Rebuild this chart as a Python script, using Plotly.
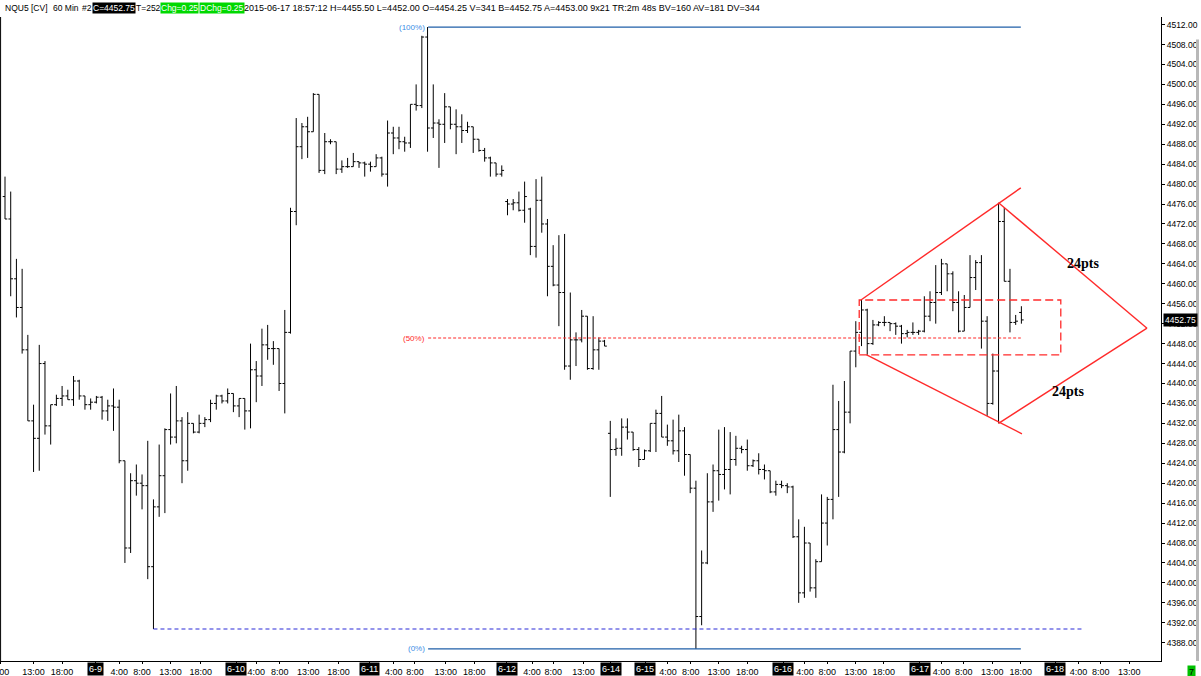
import plotly.graph_objects as go

# NQU5 60 min bars, 6-8 08:00 .. 6-17 18:00
opens = [4477.5, 4473, 4461, 4455.25, 4446.75, 4432.5, 4429, 4444, 4431.5, 4435.75,
         4437, 4437.5, 4436.75, 4440.5, 4437.5, 4435.75, 4436.25, 4437.25, 4434.5, 4435.5,
         4435.25, 4424.5, 4407, 4420.5, 4420, 4419.5, 4403.25, 4415.25, 4421.5, 4430.75,
         4429.25, 4432.5, 4424.5, 4432, 4430.25, 4432, 4432.75, 4436, 4437.5, 4436.5,
         4438, 4435.5, 4437, 4434.5, 4442.75, 4441.5, 4447.75, 4447, 4447, 4440,
         4450.25, 4474.5, 4487.5, 4491.5, 4490.5, 4498, 4482.75, 4488.5, 4488.5, 4483,
         4483.5, 4483.5, 4484.5, 4484.25, 4484, 4483.5, 4485.25, 4482, 4490.25, 4489.25,
         4488.5, 4488.25, 4496, 4495.75, 4509.5, 4491.25, 4492.25, 4492, 4495.5, 4492,
         4491.5, 4490.75, 4491.5, 4489, 4486.75, 4485.25, 4484.25, 4482, 4476.5, 4476,
         4476.25, 4474.75, 4475, 4467.5, 4476.75, 4472, 4463.5, 4459.75, 4458.25, 4443.5,
         4448.75, 4448.75, 4453.5, 4443, 4446.75, 4448.5, 4430, 4426.75, 4427, 4431.25,
         4430.25, 4426.75, 4424.75, 4426.5, 4432, 4434, 4429.25, 4428.5, 4426.5, 4430.5,
         4425.75, 4419, 4393.25, 4404, 4416.25, 4422.5, 4421.75, 4422.75, 4424.75, 4427,
         4426.75, 4423.5, 4424.5, 4422.75, 4422.5, 4418.25, 4419.75, 4419.5, 4419.25, 4409.25,
         4398, 4408, 4399, 4404.25, 4412, 4416.75, 4430.75, 4426.25, 4434.25, 4446.5,
         4450.25, 4454.75, 4448, 4451.75, 4452.25, 4452.25, 4452, 4451.5, 4450, 4450.25,
         4450.25, 4450.5, 4453.5, 4456.25, 4458.25, 4464, 4462, 4456.25, 4450.5, 4455.25,
         4461.25, 4464.25, 4452.5, 4436, 4442.5, 4472.5, 4460.5, 4452.25, 4454.25]
highs = [4481.5, 4478.5, 4465, 4463, 4449.75, 4435.75, 4447.75, 4444.5, 4435.75, 4437.75,
         4439.5, 4438.75, 4441.5, 4440.75, 4437.5, 4437, 4437.5, 4437.5, 4436.75, 4439,
         4436.75, 4424.5, 4422, 4423.75, 4421.75, 4428.5, 4416.75, 4427.75, 4431, 4438,
         4439.5, 4433.25, 4434.25, 4432, 4433.75, 4433.25, 4436.75, 4437.75, 4437.75, 4439,
         4438, 4437, 4437, 4448, 4444.5, 4451, 4451.75, 4448.5, 4447, 4454.75,
         4475.25, 4493.25, 4492.25, 4493.5, 4498.25, 4498, 4490.25, 4489, 4488.5, 4484.75,
         4485.25, 4486.25, 4484.5, 4484.5, 4484.5, 4486, 4485.5, 4492.75, 4491.5, 4491.5,
         4489.5, 4496, 4500, 4509.75, 4511.5, 4500, 4493, 4498.25, 4495.5, 4495,
         4494, 4492.5, 4491.5, 4489, 4487.25, 4485.5, 4484.25, 4483.75, 4477, 4477,
         4478.5, 4480.5, 4475.25, 4481, 4481.5, 4473, 4467.75, 4469.75, 4470, 4458.25,
         4450.25, 4454.75, 4453.5, 4453.5, 4449.25, 4448.75, 4432.5, 4429, 4433, 4433,
         4430.25, 4427.25, 4426.75, 4432, 4434.75, 4437.5, 4431.75, 4432.75, 4433.75, 4431.25,
         4425.75, 4420.5, 4406.5, 4422, 4423.75, 4430.75, 4431.25, 4430.25, 4429.5, 4427.5,
         4428.75, 4424.75, 4426, 4423.75, 4422.5, 4420.5, 4420.5, 4420, 4419.5, 4412.75,
         4411.25, 4408, 4404.75, 4417.75, 4417.25, 4439.75, 4436.5, 4440.5, 4446.5, 4452.5,
         4456.75, 4455, 4452.75, 4452.5, 4453.5, 4452.25, 4452.25, 4451.75, 4450.75, 4452.25,
         4450.75, 4457.5, 4458.5, 4463.75, 4465, 4464, 4462.5, 4458.5, 4457.75, 4465.75,
         4464.75, 4465.75, 4453.5, 4446, 4476.25, 4475.25, 4463, 4453.75, 4455.5]
lows = [4473, 4457.5, 4453.25, 4446, 4432.5, 4422.25, 4422.5, 4429.75, 4427.75, 4435.5,
        4435.5, 4436.75, 4435.5, 4436.75, 4434.75, 4434.75, 4436, 4432.75, 4432.5, 4430.5,
        4424, 4404, 4406, 4417.5, 4414.75, 4400.75, 4390.75, 4413.25, 4414, 4427.75,
        4428, 4420, 4422.5, 4430, 4430, 4431.25, 4432.25, 4434.75, 4436, 4436,
        4434.25, 4433.25, 4430.75, 4431, 4436.25, 4439.5, 4444.75, 4443.75, 4438.5, 4434,
        4450, 4471.75, 4485, 4485.25, 4490.5, 4482.25, 4482, 4488, 4482, 4482.25,
        4483.25, 4483.5, 4483.25, 4481.5, 4482.5, 4483.5, 4481.5, 4479.5, 4486, 4487,
        4486.5, 4487.25, 4494.75, 4495.25, 4486.5, 4489.25, 4483.25, 4488.25, 4491, 4486,
        4488.25, 4490.25, 4486.25, 4486.5, 4484.5, 4481.5, 4481.5, 4481.5, 4473.75, 4474.75,
        4474.5, 4472.25, 4465.75, 4465.25, 4470.25, 4457.5, 4459.5, 4451.5, 4442.75, 4440.75,
        4443.5, 4448.25, 4442.75, 4442.75, 4442.75, 4447.5, 4417.25, 4425.5, 4425.5, 4428.75,
        4426.5, 4423.25, 4424.75, 4426.25, 4426.25, 4429.25, 4427.5, 4425.75, 4424.25, 4421.5,
        4418, 4386.75, 4391.5, 4403.75, 4414.25, 4416.5, 4418.75, 4417.75, 4423.5, 4426,
        4422.5, 4423.25, 4421.75, 4420.75, 4418, 4417.5, 4419, 4418, 4409, 4396,
        4397, 4398.25, 4397, 4404.25, 4407.5, 4412.75, 4417.25, 4426, 4432, 4443.25,
        4447.5, 4445.75, 4447.75, 4451.5, 4451.5, 4450.5, 4449.75, 4448, 4449.25, 4449.75,
        4449.75, 4450.25, 4452.5, 4452, 4457.75, 4458.5, 4454.5, 4450.25, 4450.5, 4455.25,
        4458.75, 4447, 4433.5, 4435.75, 4432, 4460.5, 4450.25, 4451.75, 4452]
closes = [4473, 4461, 4455.25, 4446.75, 4432.5, 4429, 4444, 4431.5, 4435.75, 4437,
          4437.5, 4436.75, 4440.5, 4437.5, 4435.75, 4436.25, 4437.25, 4434.5, 4435.5, 4435.25,
          4424.5, 4407, 4420.5, 4420, 4419.5, 4403.25, 4415.25, 4421.5, 4430.75, 4429.25,
          4432.5, 4424.5, 4432, 4430.25, 4432, 4432.75, 4436, 4437.5, 4436.5, 4438,
          4435.5, 4437, 4434.5, 4442.75, 4441.5, 4447.75, 4447, 4447, 4440, 4450.25,
          4474.5, 4487.5, 4491.5, 4490.5, 4498, 4482.75, 4488.5, 4488.5, 4483, 4483.5,
          4483.5, 4484.5, 4484.25, 4484, 4483.5, 4485.25, 4482, 4490.25, 4489.25, 4488.5,
          4488.25, 4496, 4495.75, 4509.5, 4491.25, 4492.25, 4492, 4495.5, 4492, 4491.5,
          4490.75, 4491.5, 4489, 4486.75, 4485.25, 4484.25, 4482, 4482.75, 4476, 4476.25,
          4474.75, 4477.5, 4467.5, 4476.75, 4472, 4463.5, 4459.75, 4458.25, 4443.5, 4448.75,
          4448.75, 4453.5, 4443, 4446.75, 4448.5, 4447.5, 4426.75, 4427, 4431.25, 4430.25,
          4426.75, 4424.75, 4426.5, 4432, 4434, 4429.25, 4428.5, 4426.5, 4430.5, 4425.75,
          4419, 4393.25, 4404, 4416.25, 4422.5, 4421.75, 4422.75, 4424.75, 4427, 4426.75,
          4423.5, 4424.5, 4422.75, 4422.5, 4418.25, 4419.75, 4419.5, 4419.25, 4409.25, 4398,
          4408, 4399, 4404.25, 4412, 4416.75, 4430.75, 4426.25, 4434.25, 4446.5, 4450.25,
          4454.75, 4448, 4451.75, 4452.25, 4452.25, 4452, 4451.5, 4450, 4450.25, 4450.25,
          4450.5, 4453.5, 4456.25, 4458.25, 4464, 4462, 4456.25, 4450.5, 4455.25, 4461.25,
          4464.25, 4452.5, 4436, 4442.5, 4472.5, 4460.5, 4452.25, 4452.5, 4452.75]
bar_index = list(range(len(closes)))

# x axis labels (bar index positions)
hour_ticks = [-0.8, 5.0, 10.0, 20.0, 24.0, 29.0, 34.3, 44.0, 48.1, 53.1, 58.4, 68.1, 71.8,
              77.2, 82.2, 92.3, 96.0, 101.3, 116.1, 120.1, 125.0, 130.0, 140.1, 144.0, 149.0,
              153.9, 164.0, 167.9, 172.9, 177.9, 188.0, 191.9, 196.9]
hour_text = ["8:00", "13:00", "18:00", "4:00", "8:00", "13:00", "18:00", "4:00", "8:00",
             "13:00", "18:00", "4:00", "8:00", "13:00", "18:00", "4:00", "8:00", "13:00",
             "4:00", "8:00", "13:00", "18:00", "4:00", "8:00", "13:00", "18:00", "4:00",
             "8:00", "13:00", "18:00", "4:00", "8:00", "13:00"]
day_ticks = [15.9, 40.5, 63.9, 87.9, 106.1, 112.1, 136.3, 160.2, 183.9]
day_text = ["6-9", "6-10", "6-11", "6-12", "6-14", "6-15", "6-16", "6-17", "6-18"]

# drawing objects
fib_x = [74.1, 177.9]
fib_levels = [4511.5, 4449.125, 4386.75]
fib_labels = ["(100%)", "(50%)", "(0%)"]
low_line_x = [26.0, 188.7]
low_line_y = 4390.75
box_x = [149.6, 184.9]
box_y = [4445.75, 4456.75]
upper_leg_x = [149.9, 177.9]
upper_leg_y = [4456.75, 4479.25]
lower_leg_x = [150.9, 178.1]
lower_leg_y = [4445.75, 4429.9]
apex_x = [174.0, 200.0, 174.0]
apex_y = [4476.25, 4451.1, 4432.0]
pts_x = [188.8, 186.2]
pts_y = [4464.0, 4438.3]
last_price = 4452.75

FONT = "Liberation Sans, Arial, sans-serif"
RED = "#ff2a2a"
PLOT_W = 1161

fig = go.Figure()
fig.add_trace(go.Ohlc(
    x=bar_index, open=opens, high=highs, low=lows, close=closes,
    increasing=dict(line=dict(color="black", width=1)),
    decreasing=dict(line=dict(color="black", width=1)),
    tickwidth=0.4, hoverinfo="skip", showlegend=False))

shapes = []
# fib retracement levels
fib_colors = ["#1f5fa8", RED, "#1f5fa8"]
fib_dash = ["solid", "3px,2px", "solid"]
for lvl, c, d in zip(fib_levels, fib_colors, fib_dash):
    shapes.append(dict(type="line", x0=fib_x[0], x1=fib_x[1], y0=lvl, y1=lvl,
                       line=dict(color=c, width=1.2, dash=d)))
shapes.append(dict(type="line", x0=low_line_x[0], x1=low_line_x[1], y0=low_line_y, y1=low_line_y,
                   line=dict(color="#2a2ad8", width=1.2, dash="4px,3px")))
shapes.append(dict(type="rect", x0=box_x[0], x1=box_x[1], y0=box_y[0], y1=box_y[1],
                   line=dict(color=RED, width=1.3, dash="8px,4px")))
shapes.append(dict(type="line", x0=upper_leg_x[0], x1=upper_leg_x[1], y0=upper_leg_y[0], y1=upper_leg_y[1],
                   line=dict(color=RED, width=1.4)))
shapes.append(dict(type="line", x0=lower_leg_x[0], x1=lower_leg_x[1], y0=lower_leg_y[0], y1=lower_leg_y[1],
                   line=dict(color=RED, width=1.4)))
shapes.append(dict(type="line", x0=apex_x[0], x1=apex_x[1], y0=apex_y[0], y1=apex_y[1],
                   line=dict(color=RED, width=1.4)))
shapes.append(dict(type="line", x0=apex_x[1], x1=apex_x[2], y0=apex_y[1], y1=apex_y[2],
                   line=dict(color=RED, width=1.4)))
# scrollbar strip at far right
shapes.append(dict(type="rect", xref="paper", yref="paper", x0=1196 / PLOT_W, x1=1199 / PLOT_W,
                   y0=0, y1=0.965, line=dict(width=0), fillcolor="#b8b8b8"))
# left border of the panel
shapes.append(dict(type="line", xref="paper", yref="paper", x0=0.0005, x1=0.0005, y0=0, y1=1,
                   line=dict(color="black", width=1)))

annotations = []
fib_text_colors = ["#3a8ee6", RED, "#3a8ee6"]
for lvl, txt, c in zip(fib_levels, fib_labels, fib_text_colors):
    annotations.append(dict(x=fib_x[0], y=lvl, text=txt, showarrow=False, xanchor="right",
                            yanchor="middle", xshift=-1, font=dict(family=FONT, size=8, color=c)))
for xx, yy in zip(pts_x, pts_y):
    annotations.append(dict(x=xx, y=yy, text="<b>24pts</b>", showarrow=False,
                            font=dict(family="Liberation Serif, DejaVu Serif, serif", size=14, color="black")))
for xx, txt in zip(day_ticks, day_text):
    annotations.append(dict(x=xx, y=-0.0125, yref="paper", text=txt, showarrow=False, yanchor="middle",
                            bgcolor="black", borderpad=1, font=dict(family=FONT, size=9, color="white")))
# current price marker on the price scale
annotations.append(dict(x=1163 / PLOT_W, xref="paper", y=last_price, text=f"{last_price:.2f}",
                        showarrow=False, xanchor="left", bgcolor="black", borderpad=1,
                        font=dict(family=FONT, size=8.5, color="white")))
annotations.append(dict(x=1187 / PLOT_W, xref="paper", y=-0.017, yref="paper", text="7", showarrow=False,
                        xanchor="left", yanchor="middle", bgcolor="#00c000", borderpad=1,
                        font=dict(family=FONT, size=9, color="black")))

# header line
header = [
    (4, "NQU5 [CV]", None, "black", 8.5),
    (52, "60 Min", None, "black", 8.5),
    (81, "#2", None, "black", 8.5),
    (92, "C=4452.75", "black", "white", 8.5),
    (135, "T=252", None, "black", 8.5),
    (160, "Chg=0.25", "#00d800", "white", 8.5),
    (199, "DChg=0.25", "#00d800", "white", 8.5),
    (243, "2015-06-17 18:57:12 H=4455.50 L=4452.00 O=4454.25 V=341 B=4452.75 A=4453.00 "
          "9x21 TR:2m 48s BV=160 AV=181 DV=344", None, "black", 9),
]
for px, txt, bg, fc, fs in header:
    annotations.append(dict(x=px / PLOT_W, xref="paper", y=1.0135, yref="paper", text=txt,
                            showarrow=False, xanchor="left", yanchor="middle",
                            bgcolor=bg if bg else "rgba(0,0,0,0)", borderpad=0,
                            font=dict(family=FONT, size=fs, color=fc)))

fig.update_layout(
    width=1201, height=676,
    margin=dict(l=0, r=40, t=17, b=15, autoexpand=False),
    paper_bgcolor="white", plot_bgcolor="white",
    shapes=shapes, annotations=annotations,
    font=dict(family=FONT, size=9, color="black"),
    hovermode=False,
)
fig.update_xaxes(
    range=[-0.876, 202.45], rangeslider_visible=False, automargin=False,
    tickvals=hour_ticks + day_ticks, ticktext=hour_text + [""] * len(day_ticks),
    tickangle=0, ticks="outside", ticklen=2, tickcolor="black", ticklabeloverflow="allow",
    tickfont=dict(family=FONT, size=9, color="black"),
    showgrid=False, zeroline=False, showline=True, linecolor="black", linewidth=1,
)
fig.update_yaxes(
    range=[4384.33, 4513.52], side="right", tick0=4388, dtick=4, tickformat=".2f",
    automargin=False, ticks="outside", ticklen=3, tickcolor="black",
    tickfont=dict(family=FONT, size=8.5, color="black"),
    showgrid=False, zeroline=False, showline=True, linecolor="black", linewidth=1,
)

fig.write_html("out.html", config={"displayModeBar": False},
               post_script="document.body.style.margin='0';document.body.style.overflow='hidden';")
